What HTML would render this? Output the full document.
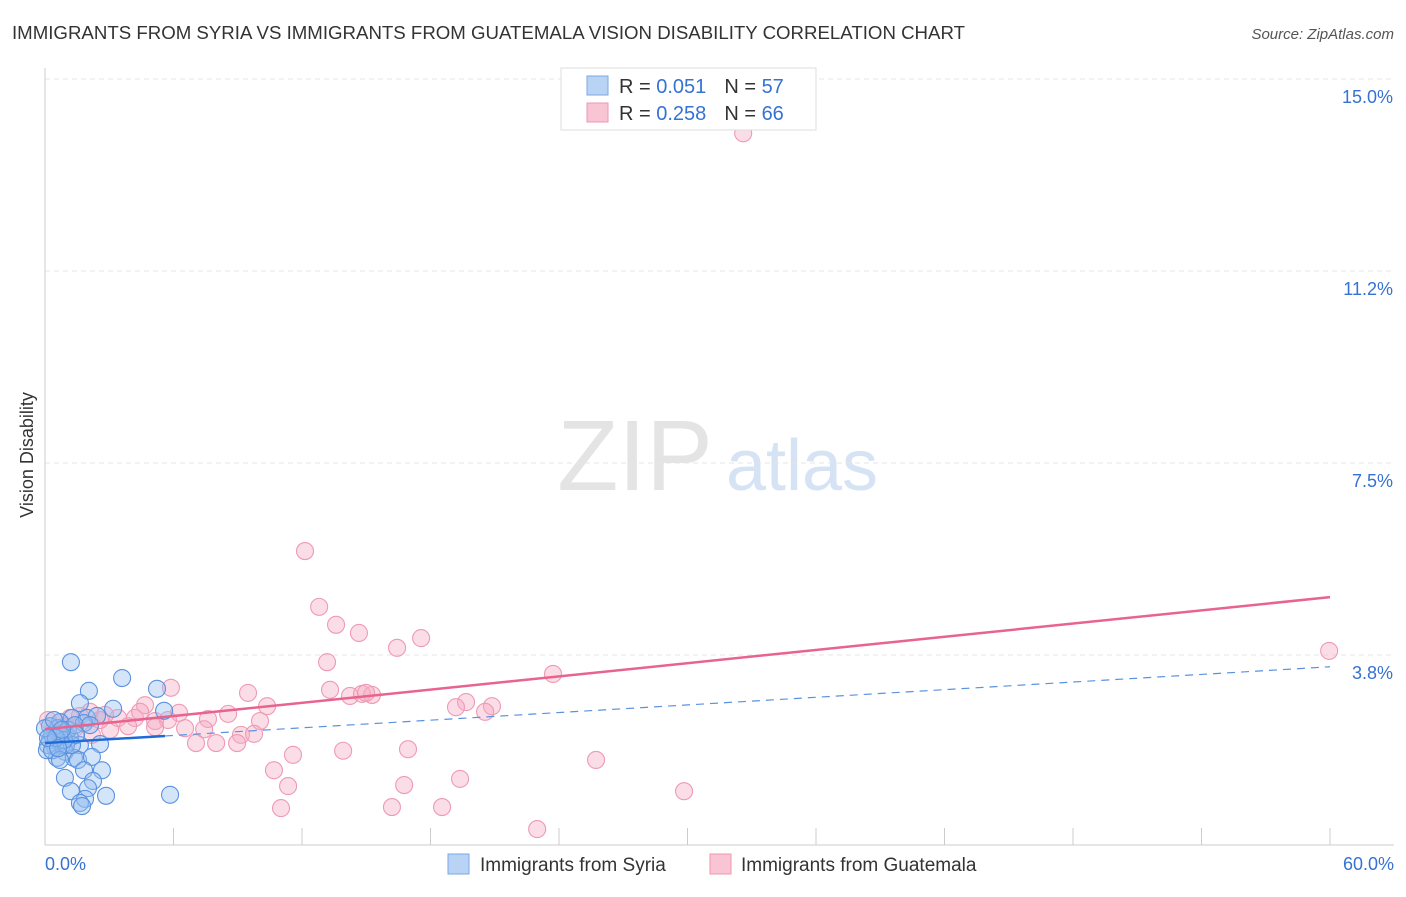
<!DOCTYPE html>
<html><head><meta charset="utf-8"><style>
body{margin:0;background:#fff;font-family:"Liberation Sans",sans-serif;}
svg text{font-family:"Liberation Sans",sans-serif;}
</style></head><body>
<svg id="chart" width="1406" height="892" xmlns="http://www.w3.org/2000/svg">
<text x="12" y="39" font-size="18" fill="#333" textLength="953" lengthAdjust="spacingAndGlyphs">IMMIGRANTS FROM SYRIA VS IMMIGRANTS FROM GUATEMALA VISION DISABILITY CORRELATION CHART</text>
<text x="1394" y="39" font-size="15" fill="#555" font-style="italic" text-anchor="end">Source: ZipAtlas.com</text>
<text x="33" y="455" font-size="18" fill="#333" transform="rotate(-90 33 455)" text-anchor="middle">Vision Disability</text>
<g><text x="635" y="490" font-size="100" fill="#e4e4e4" font-family="Liberation Serif,serif" text-anchor="middle">ZIP</text><text x="802" y="490" font-size="72" fill="#d5e3f5" text-anchor="middle">atlas</text></g>
<g id="grid"></g><g id="axes"></g><g id="points"></g><g id="lines"></g>
<g>
<rect x="561" y="68" width="255" height="62" fill="#fff" stroke="#ddd"/>
<rect x="587" y="76" width="21" height="19" fill="#b9d3f5" stroke="#7aa7e6"/>
<rect x="587" y="103" width="21" height="19" fill="#f9c5d5" stroke="#ee95b0"/>
<text x="619" y="93" font-size="20" fill="#333">R = <tspan fill="#3572d4">0.051</tspan><tspan dx="18">N = </tspan><tspan fill="#3572d4">57</tspan></text>
<text x="619" y="120" font-size="20" fill="#333">R = <tspan fill="#3572d4">0.258</tspan><tspan dx="18">N = </tspan><tspan fill="#3572d4">66</tspan></text>
</g>
<g>
<rect x="448" y="854" width="21" height="20" fill="#b9d3f5" stroke="#7aa7e6"/>
<text x="480" y="871" font-size="19" fill="#333">Immigrants from Syria</text>
<rect x="710" y="854" width="21" height="20" fill="#f9c5d5" stroke="#ee95b0"/>
<text x="741" y="871" font-size="19" fill="#333">Immigrants from Guatemala</text>
</g>
</svg>
<script>
const yTicks=[3.8,7.5,11.2,15.0];
const yTickVals=[3.75,7.5,11.25,15];
const xTickLabels=["0.0%","60.0%"];
const syriaX=[1.21,3.60,2.05,5.23,1.63,3.18,5.56,1.26,1.96,2.43,0.70,0.23,1.82,0.47,0.93,0.23,0.70,1.17,0.47,1.63,2.57,0.93,0.56,1.35,1.54,2.19,0.14,0.79,2.66,1.82,0.93,2.24,2.01,1.21,2.85,1.87,1.63,1.73,5.84,0.33,0.61,1.07,1.40,0,0.09,0.33,0.98,1.26,0.70,2.10,0.42,0.89,1.45,0.51,0.79,0.14,0.61];
const syriaY=[3.61,3.30,3.05,3.09,2.81,2.70,2.66,2.52,2.52,2.56,2.44,2.36,2.42,2.19,2.23,2.09,2.05,2.13,1.95,1.99,2.01,1.86,1.74,1.74,1.70,1.76,1.99,1.99,1.50,1.50,1.35,1.29,1.15,1.09,1.00,0.94,0.86,0.80,1.02,2.19,2.32,2.29,2.38,2.32,1.89,1.89,1.99,1.99,1.70,2.38,2.48,2.09,2.19,2.13,2.29,2.13,1.93];
const guatX=[32.6,12.14,12.80,13.59,14.66,17.56,16.44,13.17,59.96,23.72,5.88,9.48,13.31,14.24,14.80,15.27,14.99,19.66,20.87,19.19,20.55,10.37,4.67,8.55,6.26,10.04,7.61,5.14,4.20,3.41,2.80,2.10,1.17,0.14,0.70,1.63,5.74,3.88,5.14,6.54,3.04,7.43,9.15,9.76,7.05,7.99,8.97,11.58,13.92,16.95,25.73,10.69,11.35,16.77,19.38,29.84,11.02,16.20,18.54,22.98,2.57,0.93,0.33,1.40,2.19,4.44];
const guatY=[13.94,5.78,4.69,4.34,4.18,4.08,3.89,3.61,3.83,3.38,3.11,3.01,3.07,2.95,2.99,2.97,3.01,2.83,2.75,2.73,2.64,2.75,2.77,2.60,2.62,2.46,2.50,2.46,2.52,2.52,2.58,2.64,2.52,2.48,2.44,2.56,2.48,2.36,2.34,2.32,2.29,2.30,2.19,2.21,2.03,2.03,2.03,1.80,1.88,1.91,1.70,1.50,1.19,1.21,1.33,1.09,0.76,0.78,0.78,0.35,2.48,2.36,2.25,2.32,2.19,2.64];
const syriaTrend=[2.03,3.52];
const guatTrend=[2.30,4.88];
const NS="http://www.w3.org/2000/svg";
const X=v=>45+v/60*1285, Y=v=>847-v*51.2;
function mk(t,a,p){const e=document.createElementNS(NS,t);for(const k in a)e.setAttribute(k,a[k]);p.appendChild(e);return e;}
const grid=document.getElementById('grid'),axes=document.getElementById('axes');
yTickVals.forEach((v,i)=>{
 const l=mk('line',{x1:45,x2:1394,y1:Y(v),y2:Y(v),stroke:'#e6e6e6','stroke-dasharray':'5,4'},grid);
 
 
 const t=mk('text',{x:1393,y:Y(v)+24,'font-size':18,fill:'#3572d4','text-anchor':'end'},axes);
 t.textContent=yTicks[i].toFixed(1)+'%';
 
 
});
const yl=mk('line',{x1:45,x2:45,y1:68,y2:845,stroke:'#ccc'},axes);


const xl=mk('line',{x1:45,x2:1394,y1:845,y2:845,stroke:'#ccc'},axes);


for(let i=1;i<=10;i++){const tk=mk('line',{x1:X(i*6),x2:X(i*6),y1:828,y2:845,stroke:'#ccc'},axes);
 
 }
[[0,'start',45],[60,'end',1394]].forEach((d,i)=>{const t=mk('text',{x:d[2],y:870,'font-size':18,fill:'#3572d4','text-anchor':d[1]},axes);t.textContent=xTickLabels[i];
 
 });
const pts=document.getElementById('points');
guatX.forEach((x,i)=>{const c=mk('circle',{cx:X(x),cy:Y(guatY[i]),r:8.5,fill:'rgba(246,170,195,0.4)',stroke:'#ef9ab4','stroke-width':1.1},pts);
 
 });
syriaX.forEach((x,i)=>{const c=mk('circle',{cx:X(x),cy:Y(syriaY[i]),r:8.5,fill:'rgba(150,190,240,0.4)',stroke:'#5a92e0','stroke-width':1.1},pts);
 
 });
const ln=document.getElementById('lines');
const sy=x=>syriaTrend[0]+(syriaTrend[1]-syriaTrend[0])*x/60;
const d1=mk('line',{x1:X(5.6),y1:Y(sy(5.6)),x2:X(60),y2:Y(sy(60)),stroke:'#5a92e0','stroke-width':1.2,'stroke-dasharray':'8,6'},ln);


const s1=mk('line',{x1:X(0),y1:Y(sy(0)),x2:X(5.6),y2:Y(sy(5.6)),stroke:'#1f6ad6','stroke-width':2.5},ln);


const g1=mk('line',{x1:X(0),y1:Y(guatTrend[0]),x2:X(60),y2:Y(guatTrend[1]),stroke:'#e8638e','stroke-width':2.5},ln);


</script>
</body></html>
